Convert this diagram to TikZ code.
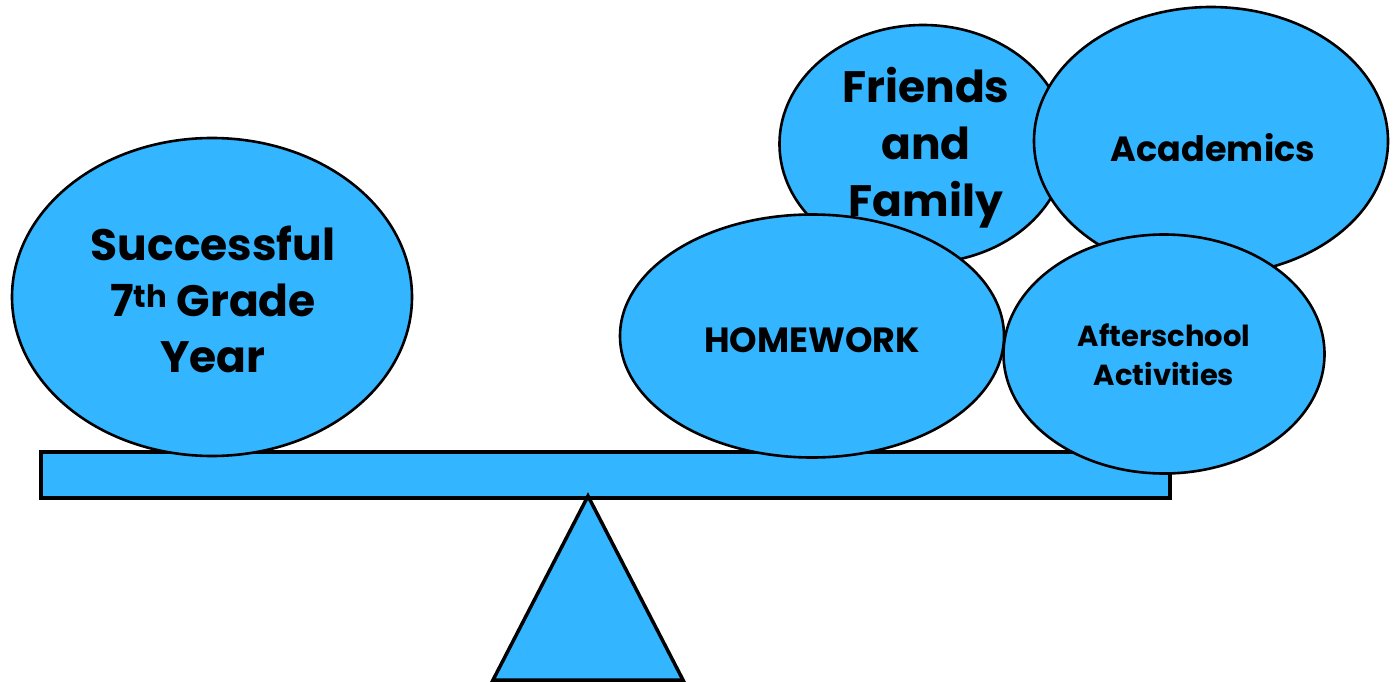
\documentclass[tikz,border=0pt]{standalone}
\usepackage{fontspec}
\setmainfont{Poppins}
\usetikzlibrary{shapes.geometric}
\definecolor{skyb}{HTML}{33B5FF}
\tikzset{
  blob/.style={ellipse, draw=black, fill=skyb, line width=2.6pt, inner sep=0pt},
  lbl/.style={align=center, text=black, inner sep=0pt, font=\bfseries},
  beamst/.style={draw=black, fill=skyb, line width=3.5pt},
}
\begin{document}
\begin{tikzpicture}[x=1pt,y=-1pt]
\useasboundingbox (0,0) rectangle (1395,682);
% beam and fulcrum
\node[beamst, rectangle, minimum width=1129pt, minimum height=46pt, anchor=north west] (beam) at (39,450) {};
\coordinate (apex) at (588,496);
\coordinate (bl) at (493,680);
\coordinate (br) at (683,680);
\draw[beamst, line join=miter] (apex) -- (br) -- (bl) -- cycle;
% left ellipse
\node[blob, minimum width=400pt, minimum height=318pt] (succ) at (212,297) {};
\node[lbl, font=\bfseries\fontsize{44}{56}\selectfont] (succt) at (213,299) {Successful\\7\textsuperscript{th} Grade\\Year};
% right group
\node[blob, minimum width=287pt, minimum height=238pt] (fam) at (923,144) {};
\node[blob, minimum width=354pt, minimum height=268pt] (acad) at (1211,141) {};
\node[blob, minimum width=384pt, minimum height=243pt] (hw) at (812,336) {};
\node[blob, minimum width=321pt, minimum height=239pt] (after) at (1164,354) {};
\node[lbl, font=\bfseries\fontsize{44}{57}\selectfont] (famt) at (926,148) {Friends\\and\\Family};
\node[lbl, font=\bfseries\fontsize{35}{42}\selectfont] (acadt) at (1213,148) {Academics};
\node[lbl, font=\bfseries\fontsize{35}{42}\selectfont] (hwt) at (812,340) {HOMEWORK};
\node[lbl, font=\bfseries\fontsize{29}{39}\selectfont] (aftert) at (1164,355) {Afterschool\\Activities};
\end{tikzpicture}
\end{document}
